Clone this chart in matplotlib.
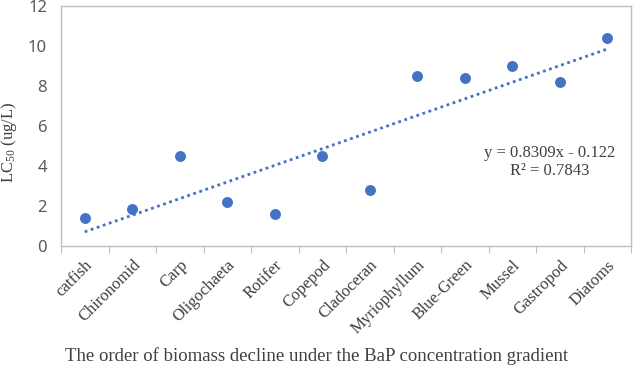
import matplotlib
matplotlib.use("Agg")
import matplotlib.pyplot as plt
import numpy as np

plt.rcParams["mathtext.fontset"] = "custom"
plt.rcParams["mathtext.rm"] = "Liberation Serif"
plt.rcParams["mathtext.it"] = "Liberation Serif:italic"

categories = ["catfish", "Chironomid", "Carp", "Oligochaeta", "Rotifer", "Copepod",
              "Cladoceran", "Myriophyllum", "Blue-Green", "Mussel", "Gastropod", "Diatoms"]
lc50 = [1.4, 1.85, 4.5, 2.2, 1.6, 4.5, 2.8, 8.5, 8.4, 9.0, 8.2, 10.4]
slope = 0.8309
intercept = -0.122
yticks = [0, 2, 4, 6, 8, 10, 12]

blue = "#4472C4"
serif = ["Liberation Serif", "DejaVu Serif"]

fig = plt.figure(figsize=(6.33, 3.65), dpi=100)
ax = fig.add_axes([61/633, 119/365, 570/633, 240/365])

x = np.arange(1, len(categories) + 1)
ax.scatter(x, lc50, s=62, color=blue, zorder=3, linewidths=0)
ax.plot(x, slope * x + intercept, linestyle=(0, (1, 1.3)), color=blue, linewidth=2.0, zorder=2)

ax.set_xlim(0.5, len(categories) + 0.5)
ax.set_ylim(0, 12)
ax.set_yticks(yticks)
ax.set_yticklabels([str(v) for v in yticks], fontsize=12, color="#595959", family=["Noto Sans", "DejaVu Sans"])
ax.tick_params(axis="y", length=0, pad=10)

ax.set_xticks(np.arange(0.5, len(categories) + 1.5, 1.0))
ax.set_xticklabels([])
ax.set_xticks(x, minor=True)
ax.set_xticklabels(categories, minor=True, rotation=45, ha="right", rotation_mode="anchor",
                   fontsize=12, family=serif, color="#404040")
ax.tick_params(axis="x", which="major", length=5, color="#BFBFBF", direction="out")
ax.tick_params(axis="x", which="minor", length=0, pad=8)

for sp in ax.spines.values():
    sp.set_color("#BFBFBF")
    sp.set_linewidth(1.0)

ax.set_ylabel("LC$_{\\mathrm{50}}$ (ug/L)", fontsize=12, family=serif, color="#404040")
ax.yaxis.set_label_coords(-0.074, 0.43)
fig.text(317/633, 4/365, "The order of biomass decline under the BaP concentration gradient",
         ha="center", va="baseline", fontsize=13.5, family=serif, color="#404040")

ax.text(0.858, 0.35, "y = 0.8309x - 0.122\nR\u00b2 = 0.7843", transform=ax.transAxes,
        ha="center", va="center", fontsize=12, family=serif, color="#404040", linespacing=1.1)

fig.savefig("out.png", dpi=100)
